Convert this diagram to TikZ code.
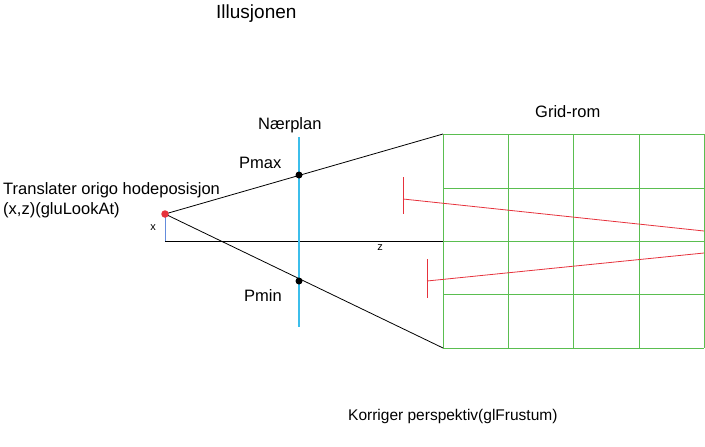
\documentclass[tikz,border=0pt]{standalone}
\usepackage{fontspec}
\setmainfont{Liberation Sans}
\definecolor{gridgreen}{RGB}{90,190,80}
\definecolor{planblue}{RGB}{60,190,235}
\definecolor{axisblue}{RGB}{100,140,220}
\definecolor{redline}{RGB}{230,50,60}
\begin{document}
\begin{tikzpicture}[x=1pt,y=-1pt,
  lbl/.style={inner sep=0pt,anchor=base west,font=\fontsize{16.5}{19}\selectfont},
  small/.style={inner sep=0pt,font=\fontsize{11}{13}\selectfont},
  gridline/.style={draw=gridgreen,line width=1pt},
  dotnode/.style={circle,fill=black,inner sep=0pt,minimum size=7pt}]
\useasboundingbox (0,0) rectangle (705,447);
% labels
\node[lbl,font=\fontsize{19}{22}\selectfont] (title) at (216,19) {Illusjonen};
\node[lbl] (near) at (258,129) {Nærplan};
\node[lbl] (gridlbl) at (535,117) {Grid-rom};
\node[lbl] (pmax) at (239,168) {Pmax};
\node[lbl] (pmin) at (244,301) {Pmin};
\node[lbl] (trans) at (3,194) {Translater origo hodeposisjon};
\node[lbl] (xz) at (3,214) {(x,z)(gluLookAt)};
\node[small] (xl) at (153,228) {x};
\node[small] (zl) at (380,248) {z};
\node[lbl,font=\fontsize{15.5}{18}\selectfont] (korr) at (348,420) {Korriger perspektiv(glFrustum)};
% grid
\foreach \x in {443,508,573,639,704} \draw[gridline] (\x,134) -- (\x,348);
\foreach \y in {134,188,241,294,348} \draw[gridline] (443,\y) -- (704,\y);
% coordinates
\coordinate (eye) at (165,214);
\coordinate (base) at (165,241);
\coordinate (zend) at (443,241);
\coordinate (ftop) at (443,134);
\coordinate (fbot) at (443,348);
\coordinate (ntop) at (299,137);
\coordinate (nbot) at (299,327);
% axes
\draw[axisblue,line width=1pt] (eye) -- (base);
\draw[black,line width=0.8pt] (base) -- (zend);
% near plane
\draw[planblue,line width=1.3pt] (ntop) -- (nbot);
% frustum
\draw[black,line width=0.8pt] (eye) -- (ftop);
\draw[black,line width=0.8pt] (eye) -- (fbot);
\node[dotnode] (dmax) at (299,175) {};
\node[dotnode] (dmin) at (299,281) {};
\node[circle,fill=redline,inner sep=0pt,minimum size=7.5pt] (eyedot) at (eye) {};
% red lines
\coordinate (r1a) at (403,199);
\coordinate (r1b) at (704,231);
\coordinate (r2a) at (427,281);
\coordinate (r2b) at (704,253);
\coordinate (t1a) at (403,177);
\coordinate (t1b) at (403,214);
\coordinate (t2a) at (427,259);
\coordinate (t2b) at (427,298);
\draw[redline,line width=0.8pt] (r1a) -- (r1b);
\draw[redline,line width=0.8pt] (t1a) -- (t1b);
\draw[redline,line width=0.8pt] (r2a) -- (r2b);
\draw[redline,line width=0.8pt] (t2a) -- (t2b);
\end{tikzpicture}
\end{document}
